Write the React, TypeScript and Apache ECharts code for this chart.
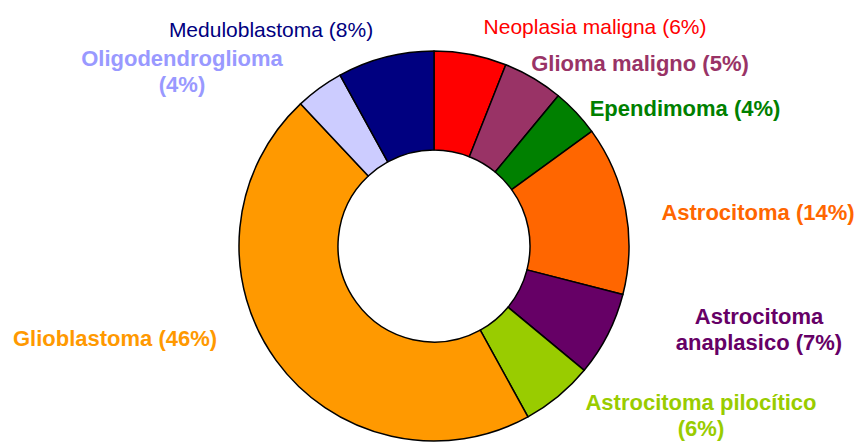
import React, { useEffect, useRef } from "react";
import * as echarts from "echarts";

const names = [
  "Neoplasia maligna",
  "Glioma maligno",
  "Ependimoma",
  "Astrocitoma",
  "Astrocitoma\nanaplasico",
  "Astrocitoma pilocítico",
  "Glioblastoma",
  "Oligodendroglioma",
  "Meduloblastoma",
];
const values = [6, 5, 4, 14, 7, 6, 46, 4, 8];
const separators = [" ", " ", " ", " ", " ", "\n", " ", "\n", " "];
const sliceColors = ["#FF0000", "#993366", "#008000", "#FF6600", "#660066", "#99CC00", "#FF9900", "#CCCCFF", "#000080"];
const labelColors = ["#FF0000", "#993366", "#008000", "#FF6600", "#660066", "#99CC00", "#FF9900", "#9999FF", "#000080"];
const labelWeights = ["normal", "bold", "bold", "bold", "bold", "bold", "bold", "bold", "normal"];

// label centre positions (layout, not data)
const labelPos: [number, number][] = [
  [595, 26],
  [640, 63],
  [685, 108],
  [758, 212],
  [759, 329],
  [701, 415],
  [115, 338],
  [182, 71],
  [271, 29],
];

export default function App() {
  const ref = useRef<HTMLDivElement>(null);
  useEffect(() => {
    if (!ref.current) return;
    const chart = echarts.init(ref.current, null, { renderer: "svg" });
    chart.setOption({
      animation: false,
      backgroundColor: "#FFFFFF",
      series: [
        {
          type: "pie",
          center: [434, 246],
          radius: [96, 195],
          startAngle: 90,
          clockwise: true,
          avoidLabelOverlap: false,
          silent: true,
          itemStyle: { borderColor: "#000000", borderWidth: 1.5 },
          labelLine: { show: false },
          labelLayout: (p: any) => ({
            x: labelPos[p.dataIndex][0],
            y: labelPos[p.dataIndex][1],
            align: "center",
            verticalAlign: "middle",
          }),
          data: names.map((n, i) => ({
            name: n,
            value: values[i],
            itemStyle: { color: sliceColors[i] },
            label: {
              show: true,
              position: "outside",
              formatter: `${n}${separators[i]}(${values[i]}%)`,
              color: labelColors[i],
              fontWeight: labelWeights[i],
              fontSize: labelWeights[i] === "bold" ? 22 : 21,
              lineHeight: 26,
              align: "center",
              fontFamily: "'Liberation Sans', Arial, sans-serif",
            },
          })),
        },
      ],
    });
    return () => chart.dispose();
  }, []);
  return (
    <div
      ref={ref}
      style={{ position: "fixed", left: 0, top: 0, width: 862, height: 443 }}
    />
  );
}
